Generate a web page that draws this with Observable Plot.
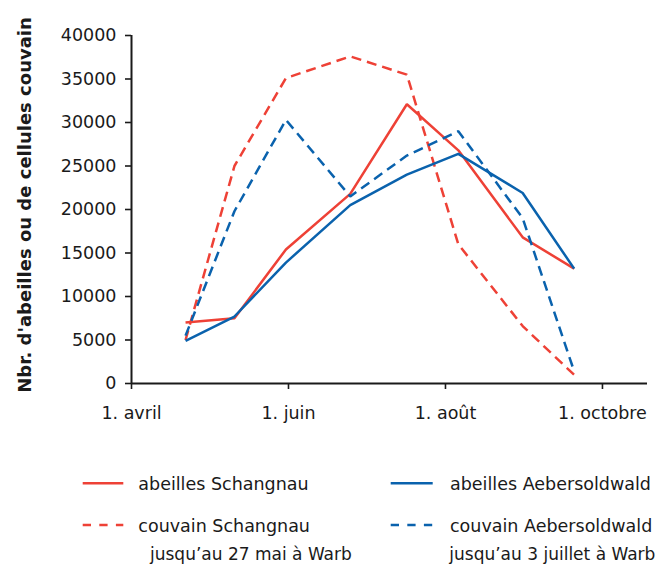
<!DOCTYPE html>
<html>
<head>
<meta charset="utf-8">
<script src="https://cdn.jsdelivr.net/npm/d3@7"></script>
<script src="https://cdn.jsdelivr.net/npm/@observablehq/plot@0.6"></script>
<style>
  body { margin: 0; background: #fff; }
  #chart { position: relative; width: 662px; height: 565px; font-family: "DejaVu Sans", sans-serif; }
  #chart svg { display: block; overflow: visible; }
</style>
</head>
<body>
<div id="chart"></div>
<script>
// ---- data ----
const dates = ["2000-04-22", "2000-05-11", "2000-05-31", "2000-06-25", "2000-07-17", "2000-08-06", "2000-08-31", "2000-09-20"];
const abeillesSchangnau     = [7000, 7500, 15400, 21800, 32100, 26800, 16800, 13200];
const abeillesAebersoldwald = [4900, 7700, 13900, 20500, 24000, 26400, 21900, 13200];
const couvainSchangnau      = [5000, 25000, 35100, 37600, 35500, 16000, 6600, 1000];
const couvainAebersoldwald  = [5500, 19800, 30300, 21500, 26200, 29000, 19000, 1400];

const seriesNames = ["abeilles Schangnau", "abeilles Aebersoldwald", "couvain Schangnau", "couvain Aebersoldwald"];
const seriesNotes = ["", "", "jusqu’au 27 mai à Warb", "jusqu’au 3 juillet à Warb"];
const seriesValues = [abeillesSchangnau, abeillesAebersoldwald, couvainSchangnau, couvainAebersoldwald];
const seriesColors = ["#ee4136", "#0a62ad", "#ee4136", "#0a62ad"];
const seriesDashed = [false, false, true, true];

const xTickDates = ["2000-04-01", "2000-06-01", "2000-08-01", "2000-10-01"];
const xTickLabels = ["1. avril", "1. juin", "1. août", "1. octobre"];
const yTicks = [0, 5000, 10000, 15000, 20000, 25000, 30000, 35000, 40000];
const yTitle = "Nbr. d'abeilles ou de cellules couvain";

// ---- build ----
const rows = seriesNames.flatMap((s, i) =>
  dates.map((d, j) => ({date: new Date(d), value: seriesValues[i][j], series: s})));

const xTicks = xTickDates.map(d => new Date(d));
const labelByTime = new Map(xTicks.map((d, i) => [+d, xTickLabels[i]]));
const xStart = new Date("2000-04-01");
const xEnd = new Date("2000-10-18T12:00:00Z");

const ink = "#1a1a1a";
const lineMarks = seriesNames.map((s, i) =>
  Plot.line(rows.filter(r => r.series === s), {
    x: "date", y: "value",
    stroke: seriesColors[i], strokeWidth: 2.5,
    strokeDasharray: seriesDashed[i] ? "10,6" : null,
    strokeLinejoin: "miter", strokeLinecap: "butt"
  }));
// draw order: solid first, dashed on top
const order = [0, 2, 1, 3];

const plot = Plot.plot({
  width: 662, height: 440,
  marginLeft: 131, marginRight: 15, marginTop: 35, marginBottom: 57,
  style: {fontFamily: "DejaVu Sans", fontSize: "17.5px", color: ink, background: "white"},
  x: {type: "utc", domain: [xStart, xEnd], label: null},
  y: {domain: [0, 40000], label: null},
  marks: [
    Plot.axisY(yTicks, {tickSize: 6, tickPadding: 9, tickFormat: d => String(d), fontSize: 17.5, strokeWidth: 1.6, label: null}),
    Plot.axisX(xTicks, {tickSize: 6, tickPadding: 17, tickFormat: d => labelByTime.get(+d), fontSize: 17.5, strokeWidth: 1.6, label: null}),
    Plot.ruleX([xStart], {stroke: ink, strokeWidth: 2}),
    Plot.ruleY([0], {stroke: ink, strokeWidth: 2}),
    ...order.map(i => lineMarks[i])
  ]
});

const chart = document.getElementById("chart");
chart.appendChild(plot);

// y-axis title
d3.select(plot).append("text")
  .attr("transform", "translate(31,205) rotate(-90)")
  .attr("text-anchor", "middle")
  .attr("font-family", "DejaVu Sans")
  .attr("font-weight", "bold")
  .attr("font-size", 18)
  .attr("fill", ink)
  .text(yTitle);

// ---- legend (below the plot) ----
const leg = d3.select(chart).append("svg")
  .attr("width", 662).attr("height", 125)
  .style("display", "block");
const colX = [{sx0: 82.7, sx1: 123.3, tx: 138.3, nx: 150}, {sx0: 390.7, sx1: 432.7, tx: 450, nx: 449.3}];
const rowY = [{sy: 43.3, ty: 50.3}, {sy: 85, ty: 91.8}];
seriesNames.forEach((s, i) => {
  const c = colX[i % 2], r = rowY[Math.floor(i / 2)];
  leg.append("line")
    .attr("x1", c.sx0).attr("x2", c.sx1).attr("y1", r.sy).attr("y2", r.sy)
    .attr("stroke", seriesColors[i]).attr("stroke-width", 2.5)
    .attr("stroke-dasharray", seriesDashed[i] ? "8.3,8.3" : null);
  leg.append("text")
    .attr("x", c.tx).attr("y", r.ty)
    .attr("font-family", "DejaVu Sans").attr("font-size", 17.5).attr("fill", ink)
    .text(s);
  if (seriesNotes[i]) {
    leg.append("text")
      .attr("x", c.nx).attr("y", r.ty + 28)
      .attr("font-family", "DejaVu Sans").attr("font-size", 17).attr("fill", ink)
      .text(seriesNotes[i]);
  }
});
</script>
</body>
</html>
